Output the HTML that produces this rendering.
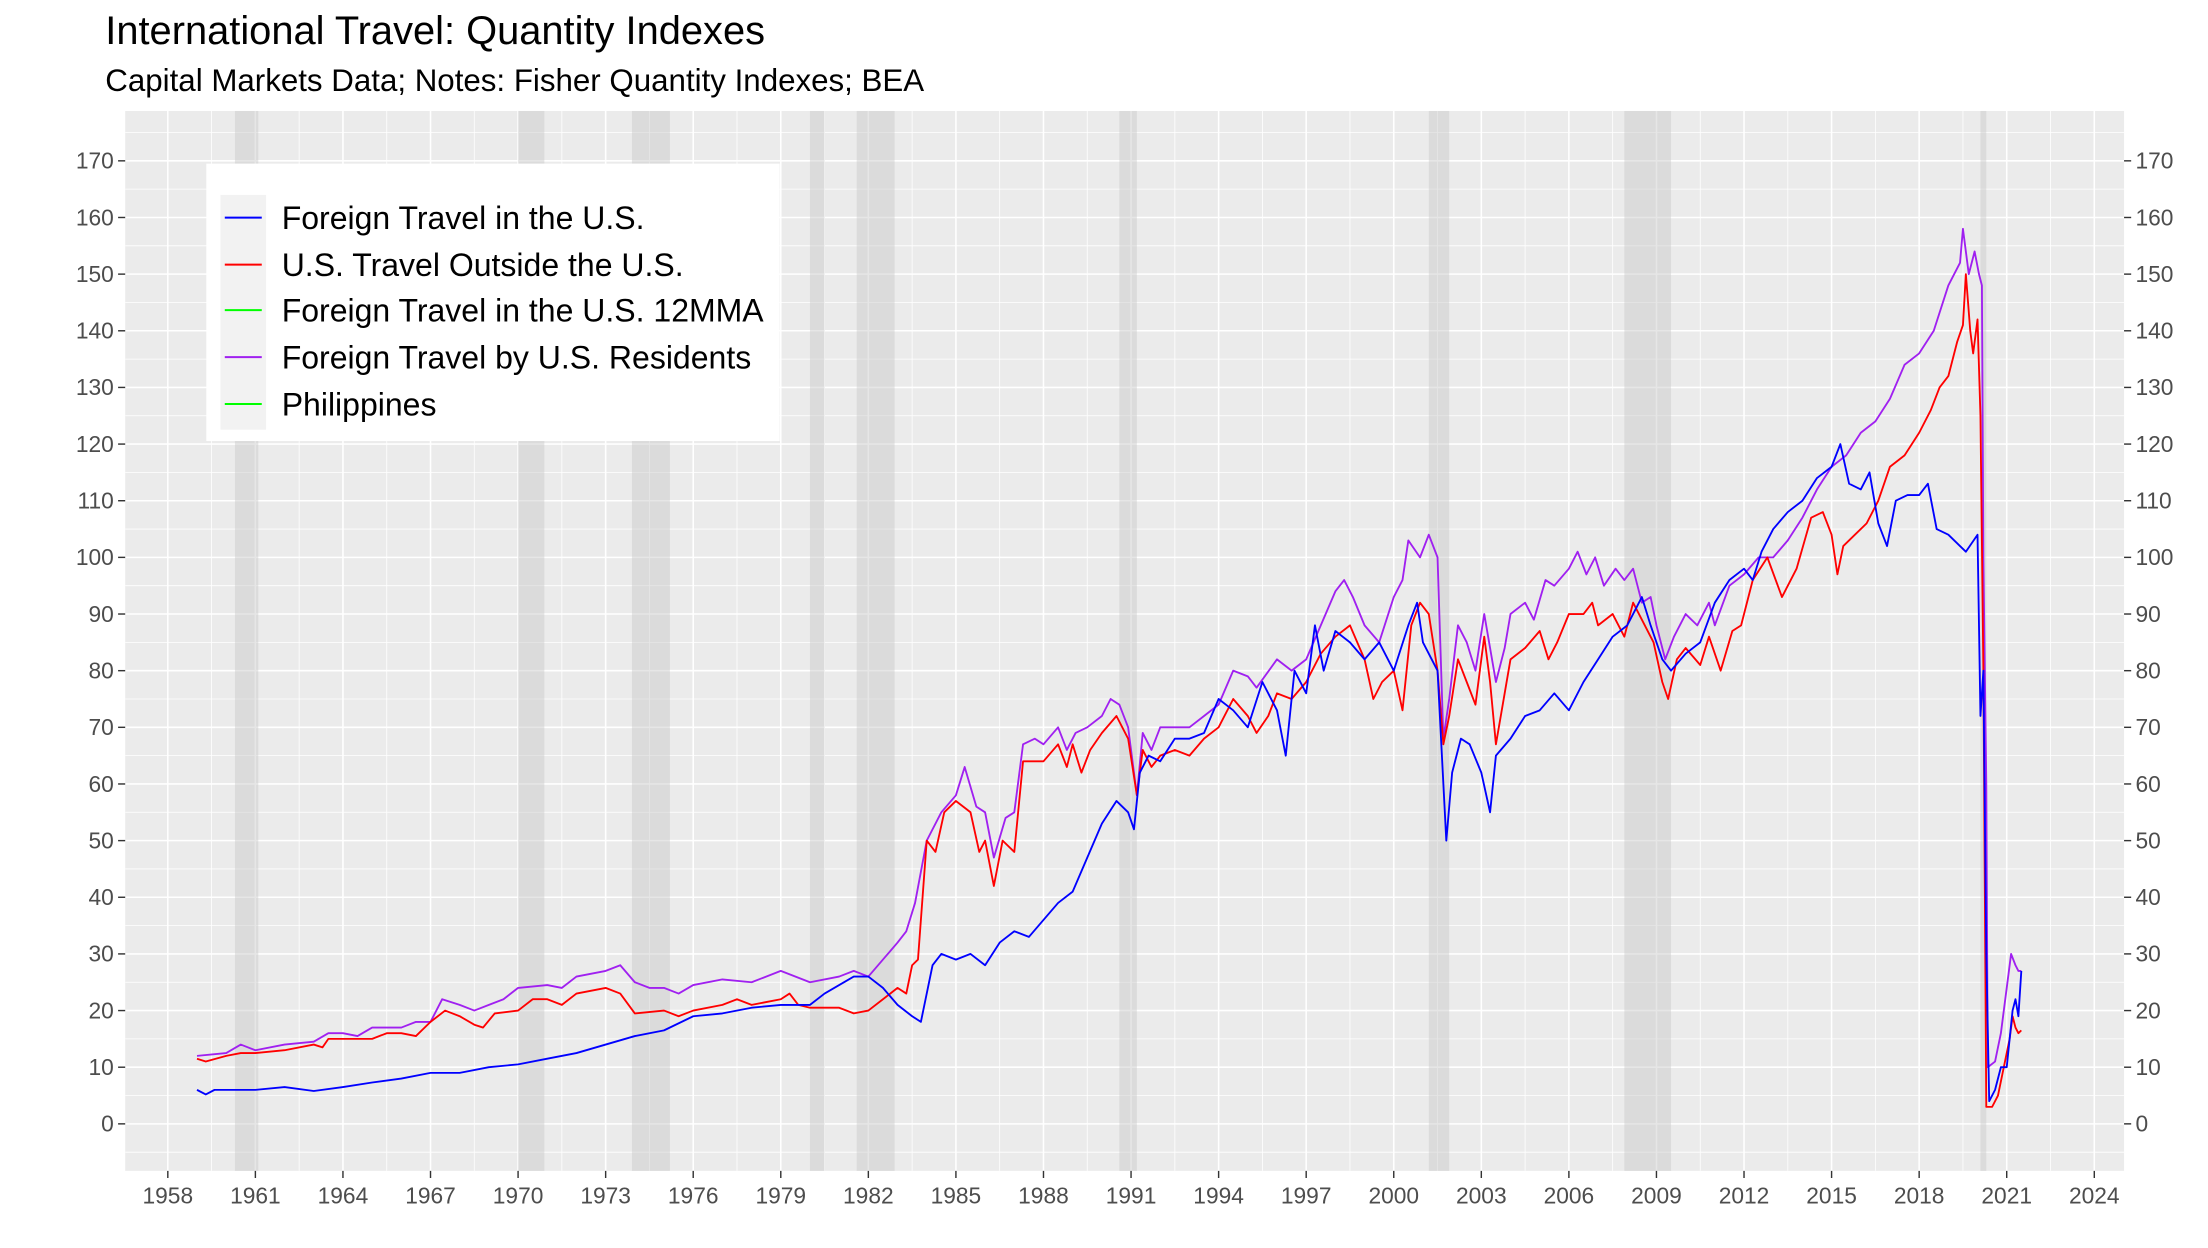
<!DOCTYPE html>
<html><head><meta charset="utf-8"><style>
html,body{margin:0;padding:0;background:#fff;}
svg{display:block;font-family:"Liberation Sans",Arial,sans-serif;}
</style></head><body>
<svg id="chart" width="2208" height="1248" viewBox="0 0 1552 877.2" xmlns="http://www.w3.org/2000/svg">
<text x="74" y="31" font-size="28" fill="#000">International Travel: Quantity Indexes</text>
<text x="74" y="64" font-size="22" fill="#000">Capital Markets Data; Notes: Fisher Quantity Indexes; BEA</text>
<rect x="88" y="78" width="1405" height="745" fill="#ebebeb"/>
<g id="grid"></g>
<g id="rec"></g>
<g id="series"></g>
<g id="axes"></g>
<g>
<rect x="145" y="115" width="403" height="195" fill="#fff"/>
<rect x="155" y="137" width="32" height="165" fill="#f2f2f2"/>
<g><line x1="158" x2="184" y1="153" y2="153" stroke="#0000ff" stroke-width="1.4"/><text x="198" y="161" font-size="22.5">Foreign Travel in the U.S.</text></g>
<g><line x1="158" x2="184" y1="186" y2="186" stroke="#ff0000" stroke-width="1.4"/><text x="198" y="194" font-size="22.5">U.S. Travel Outside the U.S.</text></g>
<g><line x1="158" x2="184" y1="218" y2="218" stroke="#00ff00" stroke-width="1.4"/><text x="198" y="226" font-size="22.5">Foreign Travel in the U.S. 12MMA</text></g>
<g><line x1="158" x2="184" y1="251" y2="251" stroke="#a020f0" stroke-width="1.4"/><text x="198" y="259" font-size="22.5">Foreign Travel by U.S. Residents</text></g>
<g><line x1="158" x2="184" y1="284" y2="284" stroke="#00ff00" stroke-width="1.4"/><text x="198" y="292" font-size="22.5">Philippines</text></g>
</g>
</svg>
<script>
const xTicks=[1958,1961,1964,1967,1970,1973,1976,1979,1982,1985,1988,1991,1994,1997,2000,2003,2006,2009,2012,2015,2018,2021,2024];
const yTicks=[0,10,20,30,40,50,60,70,80,90,100,110,120,130,140,150,160,170];
const recStart=[1960.3,1970.0,1973.9,1980.0,1981.6,1990.6,2001.2,2007.9,2020.1];
const recEnd=[1961.1,1970.9,1975.2,1980.5,1982.9,1991.2,2001.9,2009.5,2020.3];
const blueDates=[1959.0,1959.3,1959.6,1960,1961,1962,1963,1964,1965,1966,1967,1968,1969,1970,1971,1972,1973,1974,1975,1976,1977,1978,1979,1980,1980.5,1981,1981.5,1982,1982.5,1983,1983.5,1983.8,1984.2,1984.5,1985,1985.5,1986,1986.5,1987,1987.5,1988,1988.5,1989,1989.5,1990,1990.5,1990.9,1991.1,1991.3,1991.6,1992,1992.5,1993,1993.5,1994,1994.5,1995,1995.5,1996,1996.3,1996.6,1997,1997.3,1997.6,1998,1998.5,1999,1999.5,2000,2000.5,2000.8,2001,2001.5,2001.7,2001.8,2002,2002.3,2002.6,2003,2003.3,2003.5,2004,2004.5,2005,2005.5,2006,2006.5,2007,2007.5,2008,2008.5,2008.8,2009.2,2009.5,2010,2010.5,2011,2011.5,2012,2012.3,2012.6,2013,2013.5,2014,2014.5,2015,2015.3,2015.6,2016,2016.3,2016.6,2016.9,2017.2,2017.6,2018,2018.3,2018.6,2019,2019.4,2019.6,2020.0,2020.1,2020.2,2020.3,2020.4,2020.6,2020.8,2021.0,2021.2,2021.3,2021.4,2021.5];
const blueVals=[6,5.2,6,6,6,6.5,5.8,6.5,7.3,8,9,9,10,10.5,11.5,12.5,14,15.5,16.5,19,19.5,20.5,21,21,23,24.5,26,26,24,21,19,18,28,30,29,30,28,32,34,33,36,39,41,47,53,57,55,52,62,65,64,68,68,69,75,73,70,78,73,65,80,76,88,80,87,85,82,85,80,88,92,85,80,60,50,62,68,67,62,55,65,68,72,73,76,73,78,82,86,88,93,88,82,80,83,85,92,96,98,96,101,105,108,110,114,116,120,113,112,115,106,102,110,111,111,113,105,104,102,101,104,72,80,30,4,6,10,10,20,22,19,27];
const redDates=[1959,1959.3,1960,1960.5,1961,1962,1963,1963.3,1963.5,1964,1965,1965.5,1966,1966.5,1967,1967.5,1968,1968.5,1968.8,1969.2,1970,1970.5,1971,1971.5,1972,1973,1973.5,1974,1975,1975.5,1976,1977,1977.5,1978,1979,1979.3,1979.6,1980,1981,1981.5,1982,1982.5,1983,1983.3,1983.5,1983.7,1984,1984.3,1984.6,1985,1985.5,1985.8,1986,1986.3,1986.6,1987,1987.3,1987.6,1988,1988.5,1988.8,1989,1989.3,1989.6,1990,1990.5,1990.9,1991.2,1991.4,1991.7,1992,1992.5,1993,1993.5,1994,1994.5,1995,1995.3,1995.7,1996,1996.5,1997,1997.5,1998,1998.5,1999,1999.3,1999.6,2000,2000.3,2000.6,2000.9,2001.2,2001.5,2001.7,2001.9,2002.2,2002.5,2002.8,2003.1,2003.3,2003.5,2003.8,2004,2004.5,2005,2005.3,2005.6,2006,2006.5,2006.8,2007,2007.5,2007.9,2008.2,2008.6,2008.9,2009.2,2009.4,2009.7,2010,2010.5,2010.8,2011.2,2011.6,2011.9,2012.3,2012.8,2013.3,2013.8,2014.3,2014.7,2015,2015.2,2015.4,2015.8,2016.2,2016.6,2017,2017.5,2018,2018.4,2018.7,2019,2019.3,2019.5,2019.6,2019.75,2019.85,2020.0,2020.1,2020.2,2020.3,2020.5,2020.7,2020.9,2021.1,2021.2,2021.3,2021.4,2021.5];
const redVals=[11.5,11,12,12.5,12.5,13,14,13.5,15,15,15,16,16,15.5,18,20,19,17.5,17,19.5,20,22,22,21,23,24,23,19.5,20,19,20,21,22,21,22,23,21,20.5,20.5,19.5,20,22,24,23,28,29,50,48,55,57,55,48,50,42,50,48,64,64,64,67,63,67,62,66,69,72,68,58,66,63,65,66,65,68,70,75,72,69,72,76,75,78,83,86,88,82,75,78,80,73,88,92,90,80,67,72,82,78,74,86,78,67,76,82,84,87,82,85,90,90,92,88,90,86,92,88,85,78,75,82,84,81,86,80,87,88,96,100,93,98,107,108,104,97,102,104,106,110,116,118,122,126,130,132,138,141,150,140,136,142,125,80,3,3,5,10,15,19,17,16,16.5];
const purpleDates=[1959,1960,1960.5,1961,1962,1963,1963.5,1964,1964.5,1965,1966,1966.5,1967,1967.4,1968,1968.5,1969,1969.5,1970,1971,1971.5,1972,1973,1973.5,1974,1974.5,1975,1975.5,1976,1977,1978,1979,1980,1981,1981.5,1982,1982.5,1983,1983.3,1983.6,1984,1984.5,1985,1985.3,1985.7,1986,1986.3,1986.7,1987,1987.3,1987.7,1988,1988.5,1988.8,1989.1,1989.5,1990,1990.3,1990.6,1990.9,1991.2,1991.4,1991.7,1992,1993,1993.5,1994,1994.5,1995,1995.3,1996,1996.5,1997,1997.5,1998,1998.3,1998.6,1999,1999.5,2000,2000.3,2000.5,2000.9,2001.2,2001.5,2001.7,2001.9,2002.2,2002.5,2002.8,2003.1,2003.3,2003.5,2003.8,2004,2004.5,2004.8,2005.2,2005.5,2006,2006.3,2006.6,2006.9,2007.2,2007.6,2007.9,2008.2,2008.5,2008.8,2009,2009.3,2009.6,2010,2010.4,2010.8,2011,2011.5,2012,2012.5,2013,2013.5,2014,2014.5,2015,2015.5,2016,2016.5,2017,2017.5,2018,2018.5,2019,2019.4,2019.5,2019.7,2019.9,2020.05,2020.15,2020.2,2020.3,2020.35,2020.6,2020.8,2021.0,2021.15,2021.3,2021.4,2021.5];
const purpleVals=[12,12.5,14,13,14,14.5,16,16,15.5,17,17,18,18,22,21,20,21,22,24,24.5,24,26,27,28,25,24,24,23,24.5,25.5,25,27,25,26,27,26,29,32,34,39,50,55,58,63,56,55,47,54,55,67,68,67,70,66,69,70,72,75,74,70,58,69,66,70,70,72,74,80,79,77,82,80,82,88,94,96,93,88,85,93,96,103,100,104,100,68,75,88,85,80,90,84,78,84,90,92,89,96,95,98,101,97,100,95,98,96,98,92,93,88,82,86,90,88,92,88,95,97,100,100,103,107,112,116,118,122,124,128,134,136,140,148,152,158,150,154,150,148,100,60,10,11,16,24,30,28,27,27];

const NS='http://www.w3.org/2000/svg';
const L=88,R=1493,T=78,B=823;
const X0=1956.54,X1=2025.02,Y0=-8.3,Y1=178.8;
function sx(v){return L+(v-X0)/(X1-X0)*(R-L);}
function sy(v){return B-(v-Y0)/(Y1-Y0)*(B-T);}
function mk(tag,attrs,parent){const e=document.createElementNS(NS,tag);for(const k in attrs)e.setAttribute(k,attrs[k]);parent.appendChild(e);return e;}
const grid=document.getElementById('grid');
for(let i=0;i<xTicks.length;i++){
  const x=sx(xTicks[i]);
  const gl=mk('line',{x1:x,x2:x,y1:T,y2:B,stroke:'#fff','stroke-width':1.1},grid);
  
  
  const xm=sx(xTicks[i]-1.5);
  if(xm>L){const ml=mk('line',{x1:xm,x2:xm,y1:T,y2:B,stroke:'#fff','stroke-width':0.55},grid);
  
  }
}
{const xm=sx(xTicks[xTicks.length-1]+1.5);if(xm<R){const ml=mk('line',{x1:xm,x2:xm,y1:T,y2:B,stroke:'#fff','stroke-width':0.55},grid);}}
for(let v=-5;v<=175;v+=10){const y=sy(v);const ml=mk('line',{x1:L,x2:R,y1:y,y2:y,stroke:'#fff','stroke-width':0.55},grid);
  
  }
for(const v of yTicks){const y=sy(v);const gl=mk('line',{x1:L,x2:R,y1:y,y2:y,stroke:'#fff','stroke-width':1.1},grid);
  
  }
const rec=document.getElementById('rec');
for(let i=0;i<recStart.length;i++){
  const r=mk('rect',{x:sx(recStart[i]),y:T,width:sx(recEnd[i])-sx(recStart[i]),height:B-T,fill:'#c8c8c8','fill-opacity':0.45},rec);
  
  
}
const ser=document.getElementById('series');
function drawLine(dates,vals,color,name){
  let d='';for(let i=0;i<dates.length;i++){d+=(i?'L':'M')+sx(dates[i]).toFixed(2)+','+sy(vals[i]).toFixed(2);}
  const p=mk('path',{d:d,fill:'none',stroke:color,'stroke-width':1.3,'stroke-linejoin':'round'},ser);
  
  
}
drawLine(purpleDates,purpleVals,'#a020f0','line-foreign-travel-by-us-residents');
drawLine(redDates,redVals,'#ff0000','line-us-travel-outside-us');
drawLine(blueDates,blueVals,'#0000ff','line-foreign-travel-in-us');
const ax=document.getElementById('axes');
for(const v of yTicks){const y=sy(v);
  mk('line',{x1:L-5,x2:L,y1:y,y2:y,stroke:'#333','stroke-width':1},ax);
  mk('line',{x1:R,x2:R+5,y1:y,y2:y,stroke:'#333','stroke-width':1},ax);
  const t1=mk('text',{x:L-8,y:y+5.5,'font-size':16,fill:'#4d4d4d','text-anchor':'end'},ax);t1.textContent=v;
  
  
  const t2=mk('text',{x:R+8,y:y+5.5,'font-size':16,fill:'#4d4d4d'},ax);t2.textContent=v;
  
  
}
for(const v of xTicks){const x=sx(v);
  mk('line',{x1:x,x2:x,y1:B,y2:B+5,stroke:'#333','stroke-width':1},ax);
  const t=mk('text',{x:x,y:B+23,'font-size':16,fill:'#4d4d4d','text-anchor':'middle'},ax);t.textContent=v;
  
  
}
</script>
</body></html>
